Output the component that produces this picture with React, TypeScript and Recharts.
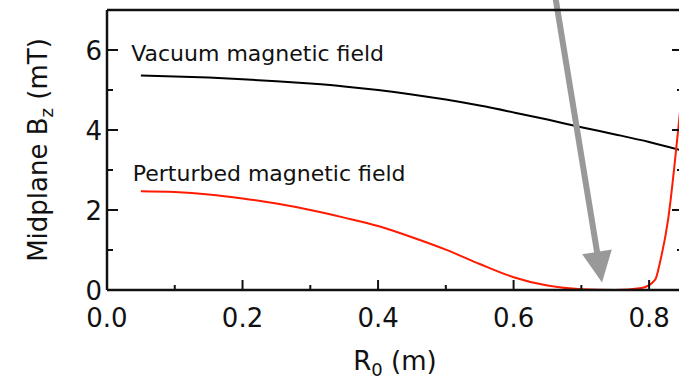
import { LineChart, Line, XAxis, YAxis, ReferenceLine, ReferenceDot, Label } from "recharts";

// R0 (m) sample positions and midplane Bz (mT) values
const vacuumR = [0.05, 0.1, 0.15, 0.2, 0.25, 0.3, 0.35, 0.4, 0.45, 0.5, 0.55, 0.6, 0.65, 0.7, 0.75, 0.8, 0.85];
const vacuumBz = [5.36, 5.34, 5.31, 5.27, 5.22, 5.16, 5.09, 5.0, 4.89, 4.76, 4.61, 4.44, 4.26, 4.07, 3.89, 3.7, 3.48];

const perturbedR = [
  0.05, 0.1, 0.15, 0.2, 0.25, 0.3, 0.35, 0.4, 0.45, 0.5, 0.55, 0.6, 0.65, 0.7, 0.75, 0.789, 0.809, 0.816, 0.828,
  0.844, 0.85,
];
const perturbedBz = [
  2.47, 2.45, 2.39, 2.29, 2.16, 2.0, 1.81, 1.6, 1.32, 1.01, 0.65, 0.32, 0.11, 0.02, 0.0, 0.05, 0.26, 0.69, 1.76,
  4.19, 5.2,
];

const xTicks = [0, 0.1, 0.2, 0.3, 0.4, 0.5, 0.6, 0.7, 0.8];
const yTicks = [0, 1, 2, 3, 4, 5, 6, 7];

// annotation: arrow pointing at the field null
const arrowFrom = { r: 0.661, bz: 7.39 };
const arrowTo = { r: 0.7305, bz: 0.19 };

const vacuumData = vacuumR.map((r, i) => ({ r, bz: vacuumBz[i] }));
const perturbedData = perturbedR.map((r, i) => ({ r, bz: perturbedBz[i] }));

const FONT = "'DejaVu Sans', Verdana, sans-serif";
const INK = "#111";

const isMajorX = (v: number) => Math.round(v * 10) % 2 === 0;
const isMajorY = (v: number) => Math.round(v) % 2 === 0;

function BottomTick({ x, y, payload }: any) {
  const major = isMajorX(payload.value);
  return (
    <g>
      <line x1={x} x2={x} y1={y} y2={y - (major ? 10 : 5)} stroke={INK} strokeWidth={2} />
      {major && (
        <text x={x} y={y + 37} textAnchor="middle" fontSize={26} fontFamily={FONT} fill={INK}>
          {payload.value.toFixed(1)}
        </text>
      )}
    </g>
  );
}

function TopTick({ x, y, payload }: any) {
  const major = isMajorX(payload.value);
  return <line x1={x} x2={x} y1={y} y2={y + (major ? 10 : 5)} stroke={INK} strokeWidth={2} />;
}

function LeftTick({ x, y, payload }: any) {
  const major = isMajorY(payload.value);
  return (
    <g>
      <line x1={x} x2={x + (major ? 11 : 6)} y1={y} y2={y} stroke={INK} strokeWidth={2} />
      {major && payload.value < 7 && (
        <text x={x - 5} y={y + 10} textAnchor="end" fontSize={26} fontFamily={FONT} fill={INK}>
          {payload.value}
        </text>
      )}
    </g>
  );
}

function RightTick({ x, y, payload }: any) {
  const major = isMajorY(payload.value);
  return <line x1={x} x2={x - (major ? 11 : 6)} y1={y} y2={y} stroke={INK} strokeWidth={2} />;
}

function Arrow({ x1, y1, x2, y2 }: any) {
  const dx = x2 - x1;
  const dy = y2 - y1;
  const len = Math.hypot(dx, dy);
  const ux = dx / len;
  const uy = dy / len;
  const headLen = 31;
  const headHalf = 15;
  const bx = x2 - ux * headLen;
  const by = y2 - uy * headLen;
  const pts = `${x2},${y2} ${bx - uy * headHalf},${by + ux * headHalf} ${bx + uy * headHalf},${by - ux * headHalf}`;
  return (
    <g>
      <line x1={x1} y1={y1} x2={bx + ux * 2} y2={by + uy * 2} stroke="#999" strokeWidth={6} />
      <polygon points={pts} fill="#999" />
    </g>
  );
}

function annotation(text: string) {
  return ({ cx, cy }: any) => (
    <text x={cx} y={cy} fontSize={22} fontFamily={FONT} fill={INK}>
      {text}
    </text>
  );
}

export default function App() {
  return (
    <div
      style={{
        position: "absolute",
        left: 0,
        top: 0,
        width: 679,
        height: 383,
        overflow: "hidden",
        background: "#fff",
      }}
    >
      <LineChart width={720} height={383} margin={{ top: 0, right: 0, bottom: 0, left: 0 }}>
        <XAxis
          dataKey="r"
          type="number"
          domain={[0, 0.85]}
          ticks={xTicks}
          interval={0}
          height={93}
          tickSize={0}
          tickMargin={0}
          tickLine={false}
          axisLine={{ stroke: INK, strokeWidth: 2.5 }}
          tick={<BottomTick />}
          allowDataOverflow
        >
          <Label
            content={({ viewBox }: any) => (
              <text
                x={viewBox.x + viewBox.width / 2}
                y={viewBox.y + 80}
                textAnchor="middle"
                fontSize={26}
                fontFamily={FONT}
                fill={INK}
              >
                R
                <tspan fontSize={18} dy={6}>
                  0
                </tspan>
                <tspan dy={-6}> (m)</tspan>
              </text>
            )}
          />
        </XAxis>
        <XAxis
          xAxisId="top"
          orientation="top"
          type="number"
          domain={[0, 0.85]}
          ticks={xTicks}
          interval={0}
          height={10}
          tickSize={0}
          tickMargin={0}
          tickLine={false}
          axisLine={{ stroke: INK, strokeWidth: 2.5 }}
          tick={<TopTick />}
          allowDataOverflow
        />
        <YAxis
          type="number"
          domain={[0, 7]}
          ticks={yTicks}
          interval={0}
          width={107}
          tickSize={0}
          tickMargin={0}
          tickLine={false}
          axisLine={{ stroke: INK, strokeWidth: 2.5 }}
          tick={<LeftTick />}
          allowDataOverflow
        >
          <Label
            content={({ viewBox }: any) => {
              const cx = viewBox.x + 47;
              const cy = viewBox.y + viewBox.height / 2;
              return (
                <text
                  x={cx}
                  y={cy}
                  transform={`rotate(-90, ${cx}, ${cy})`}
                  textAnchor="middle"
                  fontSize={26}
                  fontFamily={FONT}
                  fill={INK}
                >
                  Midplane B
                  <tspan fontSize={18} dy={6}>
                    z
                  </tspan>
                  <tspan dy={-6}> (mT)</tspan>
                </text>
              );
            }}
          />
        </YAxis>
        <YAxis
          yAxisId="right"
          orientation="right"
          type="number"
          domain={[0, 7]}
          ticks={yTicks}
          interval={0}
          width={37}
          tickSize={0}
          tickMargin={0}
          tickLine={false}
          axisLine={{ stroke: INK, strokeWidth: 2.5 }}
          tick={<RightTick />}
          allowDataOverflow
        />
        <Line
          data={vacuumData}
          dataKey="bz"
          type="monotone"
          stroke="#000"
          strokeWidth={2}
          dot={false}
          isAnimationActive={false}
        />
        <Line
          data={perturbedData}
          dataKey="bz"
          type="monotone"
          stroke="#ff1a00"
          strokeWidth={2}
          dot={false}
          isAnimationActive={false}
        />
        <ReferenceDot x={0.0357} y={5.72} r={0} shape={annotation("Vacuum magnetic field")} />
        <ReferenceDot x={0.038} y={2.72} r={0} shape={annotation("Perturbed magnetic field")} />
        <ReferenceLine
          segment={[
            { x: arrowFrom.r, y: arrowFrom.bz },
            { x: arrowTo.r, y: arrowTo.bz },
          ]}
          ifOverflow="visible"
          shape={Arrow}
        />
      </LineChart>
    </div>
  );
}
